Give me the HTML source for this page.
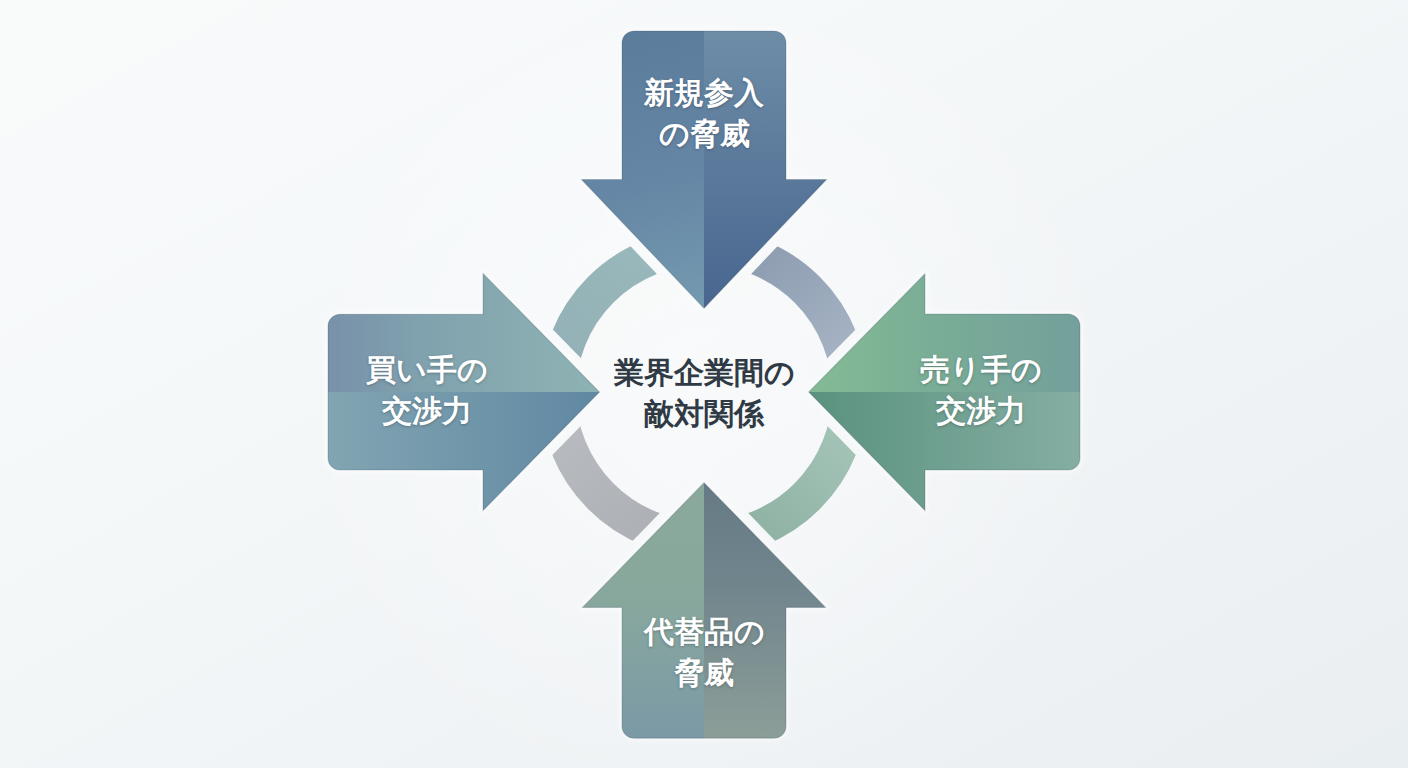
<!DOCTYPE html>
<html lang="ja">
<head>
<meta charset="utf-8">
<style>
html,body{margin:0;padding:0;width:1408px;height:768px;overflow:hidden;}
body{background:radial-gradient(circle at 704px 393px,rgba(255,255,255,0.45) 0px,rgba(255,255,255,0.3) 160px,rgba(255,255,255,0) 420px),linear-gradient(to bottom right,#f9fbfb 0%,#f5f8f9 35%,#f1f4f6 60%,#e9eef1 100%);position:relative;font-family:"Liberation Sans",sans-serif;}
svg{position:absolute;left:0;top:0;}
.lbl{position:absolute;color:#fff;font-weight:bold;font-size:30px;line-height:40.5px;text-align:center;white-space:nowrap;text-shadow:0 1px 3px rgba(0,0,0,0.25);}
.ctr{position:absolute;color:#2f3a44;font-weight:bold;font-size:30px;line-height:41px;text-align:center;white-space:nowrap;}
</style>
</head>
<body>
<svg width="1408" height="768" viewBox="0 0 1408 768">
<defs>
  <!-- top arrow -->
  <linearGradient id="tL" gradientUnits="userSpaceOnUse" x1="640" y1="31" x2="704" y2="300">
    <stop offset="0" stop-color="#5c7c9c"/><stop offset="0.55" stop-color="#6686a5"/><stop offset="1" stop-color="#7399af"/>
  </linearGradient>
  <linearGradient id="tR" gradientUnits="userSpaceOnUse" x1="0" y1="31" x2="0" y2="308">
    <stop offset="0" stop-color="#6d8da7"/><stop offset="1" stop-color="#48668f"/>
  </linearGradient>
  <!-- bottom arrow -->
  <linearGradient id="bL" gradientUnits="userSpaceOnUse" x1="0" y1="483" x2="0" y2="738">
    <stop offset="0" stop-color="#8aa99b"/><stop offset="0.45" stop-color="#88a89d"/><stop offset="1" stop-color="#7b99a6"/>
  </linearGradient>
  <linearGradient id="bR" gradientUnits="userSpaceOnUse" x1="0" y1="483" x2="0" y2="738">
    <stop offset="0" stop-color="#667a85"/><stop offset="0.4" stop-color="#71858d"/><stop offset="1" stop-color="#8b9e98"/>
  </linearGradient>
  <!-- left arrow -->
  <linearGradient id="lT" gradientUnits="userSpaceOnUse" x1="328" y1="0" x2="600" y2="0">
    <stop offset="0" stop-color="#7991a9"/><stop offset="0.35" stop-color="#80a2ae"/><stop offset="1" stop-color="#8eb3b3"/>
  </linearGradient>
  <linearGradient id="lB" gradientUnits="userSpaceOnUse" x1="328" y1="0" x2="600" y2="0">
    <stop offset="0" stop-color="#82a5b2"/><stop offset="1" stop-color="#6088a2"/>
  </linearGradient>
  <!-- right arrow -->
  <linearGradient id="rT" gradientUnits="userSpaceOnUse" x1="809" y1="0" x2="1080" y2="0">
    <stop offset="0" stop-color="#84bb95"/><stop offset="0.45" stop-color="#7aad96"/><stop offset="1" stop-color="#73a09c"/>
  </linearGradient>
  <linearGradient id="rB" gradientUnits="userSpaceOnUse" x1="809" y1="0" x2="1080" y2="0">
    <stop offset="0" stop-color="#5a927e"/><stop offset="1" stop-color="#85aea3"/>
  </linearGradient>
  <!-- arcs -->
  <linearGradient id="aUL" gradientUnits="userSpaceOnUse" x1="650" y1="250" x2="560" y2="350">
    <stop offset="0" stop-color="#99b8bb"/><stop offset="1" stop-color="#93b1b6"/>
  </linearGradient>
  <linearGradient id="aUR" gradientUnits="userSpaceOnUse" x1="760" y1="250" x2="850" y2="350">
    <stop offset="0" stop-color="#8e9cb1"/><stop offset="1" stop-color="#a5b3c4"/>
  </linearGradient>
  <linearGradient id="aLL" gradientUnits="userSpaceOnUse" x1="560" y1="440" x2="650" y2="535">
    <stop offset="0" stop-color="#b7babf"/><stop offset="1" stop-color="#adb1b6"/>
  </linearGradient>
  <linearGradient id="aLR" gradientUnits="userSpaceOnUse" x1="850" y1="440" x2="760" y2="535">
    <stop offset="0" stop-color="#a3c3b7"/><stop offset="1" stop-color="#8fb2a4"/>
  </linearGradient>
  <clipPath id="cL"><rect x="0" y="0" width="704" height="768"/></clipPath>
  <clipPath id="cR"><rect x="704" y="0" width="704" height="768"/></clipPath>
  <clipPath id="cT"><rect x="0" y="0" width="1408" height="392"/></clipPath>
  <clipPath id="cB"><rect x="0" y="392" width="1408" height="376"/></clipPath>
  <path id="pTop" d="M634 31H774A12 12 0 0 1 786 43V179.5H826.5L704 308.3L581.5 179.5H622V43A12 12 0 0 1 634 31Z"/>
  <path id="pBot" d="M704 482.7L825.5 607.4H786V726.2A12 12 0 0 1 774 738.2H634A12 12 0 0 1 622 726.2V607.4H582.5Z"/>
  <path id="pLft" d="M340 314.3H483V273.4L599.5 392L483 510.6V470H340A12 12 0 0 1 328 458V326.3A12 12 0 0 1 340 314.3Z"/>
  <path id="pRgt" d="M808.75 392L925 273.8V314H1068A12 12 0 0 1 1080 326V458A12 12 0 0 1 1068 470H925V510.6Z"/>
  <mask id="ringMask" maskUnits="userSpaceOnUse" x="0" y="0" width="1408" height="768">
    <rect x="0" y="0" width="1408" height="768" fill="#fff"/>
    <g fill="#000" stroke="#000" stroke-width="21" stroke-linejoin="round">
      <use href="#pTop"/><use href="#pBot"/><use href="#pLft"/><use href="#pRgt"/>
    </g>
  </mask>
  <filter id="blur2" x="-20%" y="-20%" width="140%" height="140%"><feGaussianBlur stdDeviation="2"/></filter>
</defs>

<!-- ring arcs -->
<g mask="url(#ringMask)" fill="none" stroke-width="36">
  <path d="M558 393A146 146 0 0 1 704 247" stroke="url(#aUL)"/>
  <path d="M704 247A146 146 0 0 1 850 393" stroke="url(#aUR)"/>
  <path d="M850 393A146 146 0 0 1 704 539" stroke="url(#aLR)"/>
  <path d="M704 539A146 146 0 0 1 558 393" stroke="url(#aLL)"/>
</g>

<!-- halo -->
<g fill="none" stroke="#ffffff" stroke-width="5" stroke-linejoin="miter" opacity="0.55" filter="url(#blur2)">
  <use href="#pTop"/><use href="#pBot"/><use href="#pLft"/><use href="#pRgt"/>
</g>
<!-- arrows -->
<use href="#pTop" fill="url(#tL)" clip-path="url(#cL)"/>
<use href="#pTop" fill="url(#tR)" clip-path="url(#cR)"/>
<use href="#pBot" fill="url(#bL)" clip-path="url(#cL)"/>
<use href="#pBot" fill="url(#bR)" clip-path="url(#cR)"/>
<use href="#pLft" fill="url(#lT)" clip-path="url(#cT)"/>
<use href="#pLft" fill="url(#lB)" clip-path="url(#cB)"/>
<use href="#pRgt" fill="url(#rT)" clip-path="url(#cT)"/>
<use href="#pRgt" fill="url(#rB)" clip-path="url(#cB)"/>
<g fill="none" stroke="#1e3246" stroke-width="1.2" opacity="0.18">
  <use href="#pTop"/><use href="#pBot"/><use href="#pLft"/><use href="#pRgt"/>
</g>
</svg>

<div class="lbl" style="left:604px;top:73px;width:200px;">新規参入<br>の脅威</div>
<div class="lbl" style="left:327px;top:350px;width:200px;">買い手の<br>交渉力</div>
<div class="lbl" style="left:881px;top:350px;width:200px;">売り手の<br>交渉力</div>
<div class="lbl" style="left:604px;top:612px;width:200px;">代替品の<br>脅威</div>
<div class="ctr" style="left:554px;top:352px;width:300px;">業界企業間の<br>敵対関係</div>
</body>
</html>
